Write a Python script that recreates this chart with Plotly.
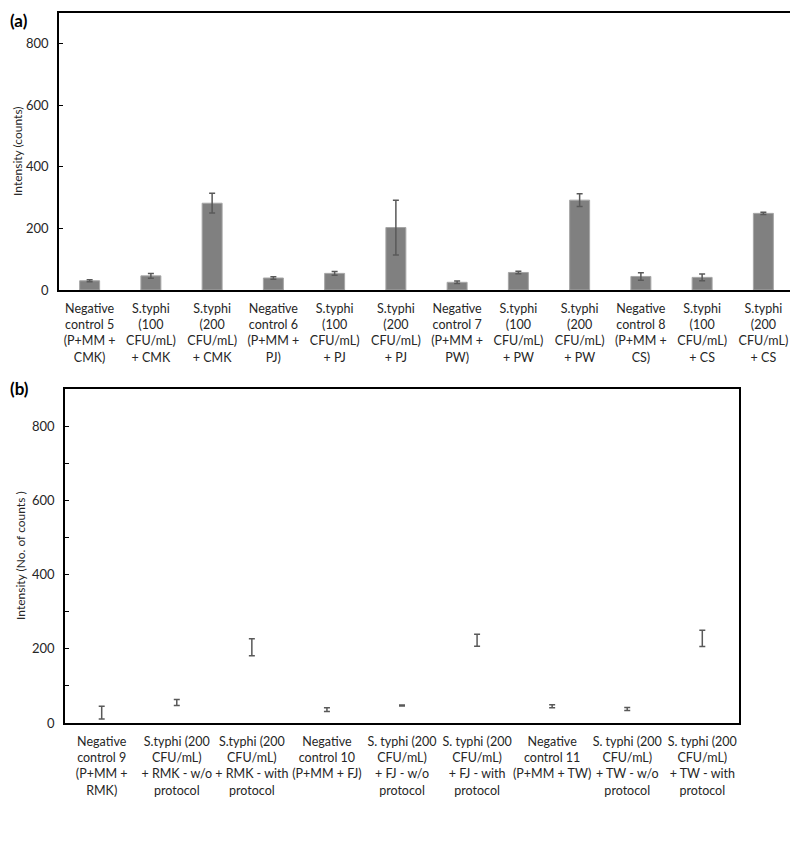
import plotly.graph_objects as go

# ---- Panel (a) data ----
cats_a = [
    "Negative<br>control 5<br>(P+MM +<br>CMK)",
    "S.typhi<br>(100<br>CFU/mL)<br>+ CMK",
    "S.typhi<br>(200<br>CFU/mL)<br>+ CMK",
    "Negative<br>control 6<br>(P+MM +<br>PJ)",
    "S.typhi<br>(100<br>CFU/mL)<br>+ PJ",
    "S.typhi<br>(200<br>CFU/mL)<br>+ PJ",
    "Negative<br>control 7<br>(P+MM +<br>PW)",
    "S.typhi<br>(100<br>CFU/mL)<br>+ PW",
    "S.typhi<br>(200<br>CFU/mL)<br>+ PW",
    "Negative<br>control 8<br>(P+MM +<br>CS)",
    "S.typhi<br>(100<br>CFU/mL)<br>+ CS",
    "S.typhi<br>(200<br>CFU/mL)<br>+ CS",
]
vals_a = [30, 46, 282, 39, 54, 203, 25, 57, 292, 44, 41, 249]
err_a = [3, 8, 32, 4, 6, 89, 4, 4, 21, 12, 11, 4]

# ---- Panel (b) data ----
cats_b = [
    "Negative<br>control 9<br>(P+MM +<br>RMK)",
    "S.typhi (200<br>CFU/mL)<br>+ RMK - w/o<br>protocol",
    "S.typhi (200<br>CFU/mL)<br>+ RMK - with<br>protocol",
    "Negative<br>control 10<br>(P+MM + FJ)",
    "S. typhi (200<br>CFU/mL)<br>+ FJ - w/o<br>protocol",
    "S. typhi (200<br>CFU/mL)<br>+ FJ - with<br>protocol",
    "Negative<br>control 11<br>(P+MM + TW)",
    "S. typhi (200<br>CFU/mL)<br>+ TW - w/o<br>protocol",
    "S. typhi (200<br>CFU/mL)<br>+ TW - with<br>protocol",
]
vals_b = [28, 55, 204, 36, 47, 223, 45, 38, 228]
err_b = [17, 8, 23, 5, 1.5, 16, 4, 4, 22]

yticks = [0, 200, 400, 600, 800]

FONT = "Lato"
TXT = "#262626"
W, H = 798, 841
OFF = 8  # page body margin


def px_x(x):
    return (x - OFF) / W


def px_y(y):
    return 1 - (y - OFF) / H


fig = go.Figure()

fig.add_trace(go.Bar(
    x=cats_a, y=vals_a,
    marker=dict(color="#808080", line=dict(color="#a6a6a6", width=1)),
    error_y=dict(type="data", array=err_a, visible=True, color="#595959",
                 thickness=1.5, width=3),
    xaxis="x", yaxis="y", showlegend=False,
))

fig.add_trace(go.Scatter(
    x=cats_b, y=vals_b, mode="markers",
    marker=dict(size=1, color="rgba(0,0,0,0)"),
    error_y=dict(type="data", array=err_b, visible=True, color="#595959",
                 thickness=1.5, width=3),
    xaxis="x2", yaxis="y2", showlegend=False,
))

axis_common = dict(showline=True, linecolor="black", linewidth=1.5, mirror=True,
                   showgrid=False, zeroline=False, automargin=False)

fig.update_layout(
    template="none",
    width=W, height=H,
    margin=dict(l=0, r=0, t=0, b=0, autoexpand=False),
    paper_bgcolor="white", plot_bgcolor="white",
    font=dict(family=FONT, size=12.5, color=TXT),
    bargap=0.674,
    xaxis=dict(domain=[px_x(59), px_x(794)], anchor="y", type="category",
               ticks="", tickangle=0, tickfont=dict(size=12.5), ticklabelstandoff=6,
               **axis_common),
    yaxis=dict(domain=[px_y(290), px_y(13)], anchor="x", range=[0, 900],
               tickvals=yticks, ticks="inside", ticklen=4, tickcolor="black",
               tickfont=dict(size=13), ticklabelstandoff=6, **axis_common),
    xaxis2=dict(domain=[px_x(65), px_x(739)], anchor="y2", type="category",
                ticks="", tickangle=0, tickfont=dict(size=12.5), ticklabelstandoff=6,
                **axis_common),
    yaxis2=dict(domain=[px_y(723), px_y(389)], anchor="x2", range=[0, 900],
                tickvals=yticks, ticks="inside", ticklen=4, tickcolor="black",
                tickfont=dict(size=13), ticklabelstandoff=6,
                minor=dict(dtick=100, ticks="inside", ticklen=4, tickcolor="black"),
                **axis_common),
)

fig.add_annotation(text="<b>(a)</b>", x=0, y=1, xref="paper", yref="paper",
                   xanchor="left", yanchor="top", showarrow=False,
                   font=dict(size=17, family=FONT, color="black"))
fig.add_annotation(text="<b>(b)</b>", x=0, y=px_y(389), xref="paper", yref="paper",
                   xanchor="left", yanchor="middle", showarrow=False,
                   font=dict(size=17, family=FONT, color="black"))
fig.add_annotation(text="Intensity (counts)", x=px_x(17), y=px_y(151),
                   xref="paper", yref="paper", textangle=-90, showarrow=False,
                   xanchor="center", yanchor="middle", font=dict(size=12, family=FONT))
fig.add_annotation(text="Intensity (No. of counts )", x=px_x(20), y=px_y(556),
                   xref="paper", yref="paper", textangle=-90, showarrow=False,
                   xanchor="center", yanchor="middle", font=dict(size=12, family=FONT))

fig.write_html("out.html")
